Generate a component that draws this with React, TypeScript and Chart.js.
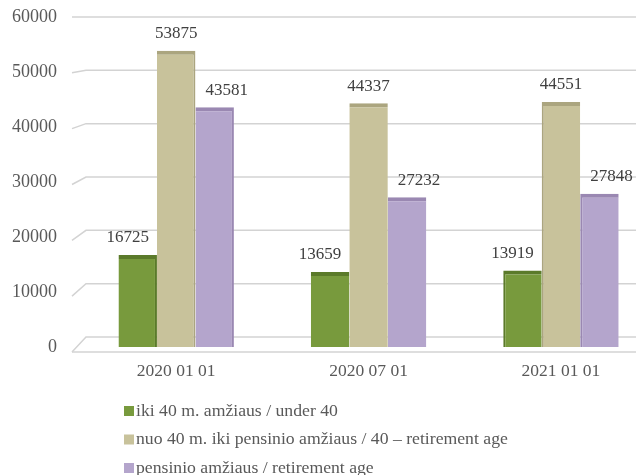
import React, { useEffect, useRef } from 'react';
import { Chart, registerables } from 'chart.js';

Chart.register(...registerables);

const categories = ['2020 01 01', '2020 07 01', '2021 01 01'];
const under40 = [16725, 13659, 13919];
const from40ToRetirement = [53875, 44337, 44551];
const retirementAge = [43581, 27232, 27848];
const seriesLabels = [
  'iki 40 m. amžiaus / under 40',
  'nuo 40 m. iki pensinio amžiaus / 40 – retirement age',
  'pensinio amžiaus / retirement age',
];
const yMin = 0;
const yMax = 60000;
const yStep = 10000;

const FONT = "'Liberation Serif', 'Times New Roman', serif";

const gridPlugin = {
  id: 'grid3d',
  beforeDatasetsDraw(chart: any) {
    const { ctx, chartArea, scales } = chart;
    const { left, top, bottom } = chartArea;
    const y = scales.y;
    const W = chart.width;
    ctx.save();
    ctx.strokeStyle = '#d3d3d3';
    ctx.lineWidth = 1.5;
    y.ticks.forEach((t: any) => {
      const yf = y.getPixelForValue(t.value);
      const frac = (yf - top) / (bottom - top);
      const back = yf - frac * 10;
      const front = yf + frac * 5;
      ctx.beginPath();
      ctx.moveTo(left - 8, front);
      ctx.lineTo(left + 6, back);
      ctx.lineTo(W, back);
      ctx.stroke();
      if (t.value === 0) {
        ctx.beginPath();
        ctx.moveTo(left - 8, front);
        ctx.lineTo(W, front);
        ctx.stroke();
      }
    });
    ctx.restore();
  },
};

const labelPlugin = {
  id: 'valueLabels',
  afterDatasetsDraw(chart: any) {
    const { ctx } = chart;
    const offsets = [-10, 0, 12];
    ctx.save();
    ctx.font = `17px ${FONT}`;
    ctx.fillStyle = '#404040';
    ctx.textAlign = 'center';
    ctx.textBaseline = 'middle';
    chart.data.datasets.forEach((ds: any, di: number) => {
      const meta = chart.getDatasetMeta(di);
      meta.data.forEach((bar: any, i: number) => {
        const v = ds.data[i].y;
        ctx.fillText(String(v), bar.x + offsets[di], bar.y - 17);
      });
    });
    ctx.restore();
  },
};

const legendPlugin = {
  id: 'stackedLegend',
  afterDraw(chart: any) {
    const { ctx } = chart;
    ctx.save();
    ctx.font = `17.7px ${FONT}`;
    ctx.textAlign = 'left';
    ctx.textBaseline = 'middle';
    chart.data.datasets.forEach((ds: any, di: number) => {
      const cy = 411 + di * 28.5;
      ctx.fillStyle = ds.backgroundColor;
      ctx.fillRect(124, cy - 5, 10, 10);
      ctx.fillStyle = '#595959';
      ctx.fillText(ds.label, 136, cy);
    });
    ctx.restore();
  },
};

function sideBorder(ctx: any) {
  const i = ctx.dataIndex;
  if (i === 0) return { top: 4, right: 2, left: 0, bottom: 0 };
  if (i === 2) return { top: 4, left: 2, right: 0, bottom: 0 };
  return { top: 4, left: 0, right: 0, bottom: 0 };
}

export default function App() {
  const ref = useRef<HTMLCanvasElement | null>(null);
  useEffect(() => {
    document.body.style.margin = '0';
    if (!ref.current) return;
    const toPoints = (arr: number[]) => arr.map((v, i) => ({ x: i, y: v }));
    const chart = new Chart(ref.current, {
      type: 'bar',
      data: {
        datasets: [
          {
            label: seriesLabels[0],
            data: toPoints(under40),
            backgroundColor: '#789A3D',
            borderColor: '#5B7A2A',
            borderWidth: sideBorder,
          },
          {
            label: seriesLabels[1],
            data: toPoints(from40ToRetirement),
            backgroundColor: '#C8C29B',
            borderColor: '#ABA57F',
            borderWidth: sideBorder,
          },
          {
            label: seriesLabels[2],
            data: toPoints(retirementAge),
            backgroundColor: '#B4A5CC',
            borderColor: '#9A88B2',
            borderWidth: sideBorder,
          },
        ] as any,
      },
      options: {
        responsive: false,
        animation: false,
        devicePixelRatio: 1,
        layout: { padding: { top: 17, bottom: 93, left: 0, right: 0 } },
        datasets: { bar: { categoryPercentage: 0.6, barPercentage: 1.0 } } as any,
        plugins: {
          legend: { display: false },
          tooltip: { enabled: false },
        },
        events: [],
        scales: {
          x: {
            type: 'linear',
            min: -0.5,
            max: 2.39,
            offset: false,
            grid: { display: false, drawTicks: false, offset: false },
            border: { display: false },
            afterFit(scale: any) {
              scale.height = 35;
              scale.paddingLeft = 0;
              scale.paddingRight = 0;
            },
            ticks: {
              stepSize: 1,
              includeBounds: false,
              autoSkip: false,
              maxRotation: 0,
              padding: 14,
              color: '#595959',
              font: { family: FONT, size: 17.5 },
              callback: (v: any) => categories[v as number] ?? '',
            },
          } as any,
          y: {
            min: yMin,
            max: yMax,
            grid: { display: false, drawTicks: false },
            border: { display: false },
            afterFit(scale: any) {
              scale.width = 80;
              scale.paddingTop = 0;
              scale.paddingBottom = 0;
            },
            ticks: {
              stepSize: yStep,
              padding: 23,
              color: '#595959',
              font: { family: FONT, size: 18 },
              callback: (v: any) => String(v),
            },
          },
        },
      },
      plugins: [gridPlugin, labelPlugin, legendPlugin],
    });
    return () => chart.destroy();
  }, []);
  return (
    <div style={{ width: 636, height: 475, background: '#fff' }}>
      <canvas ref={ref} width={636} height={475} />
    </div>
  );
}
